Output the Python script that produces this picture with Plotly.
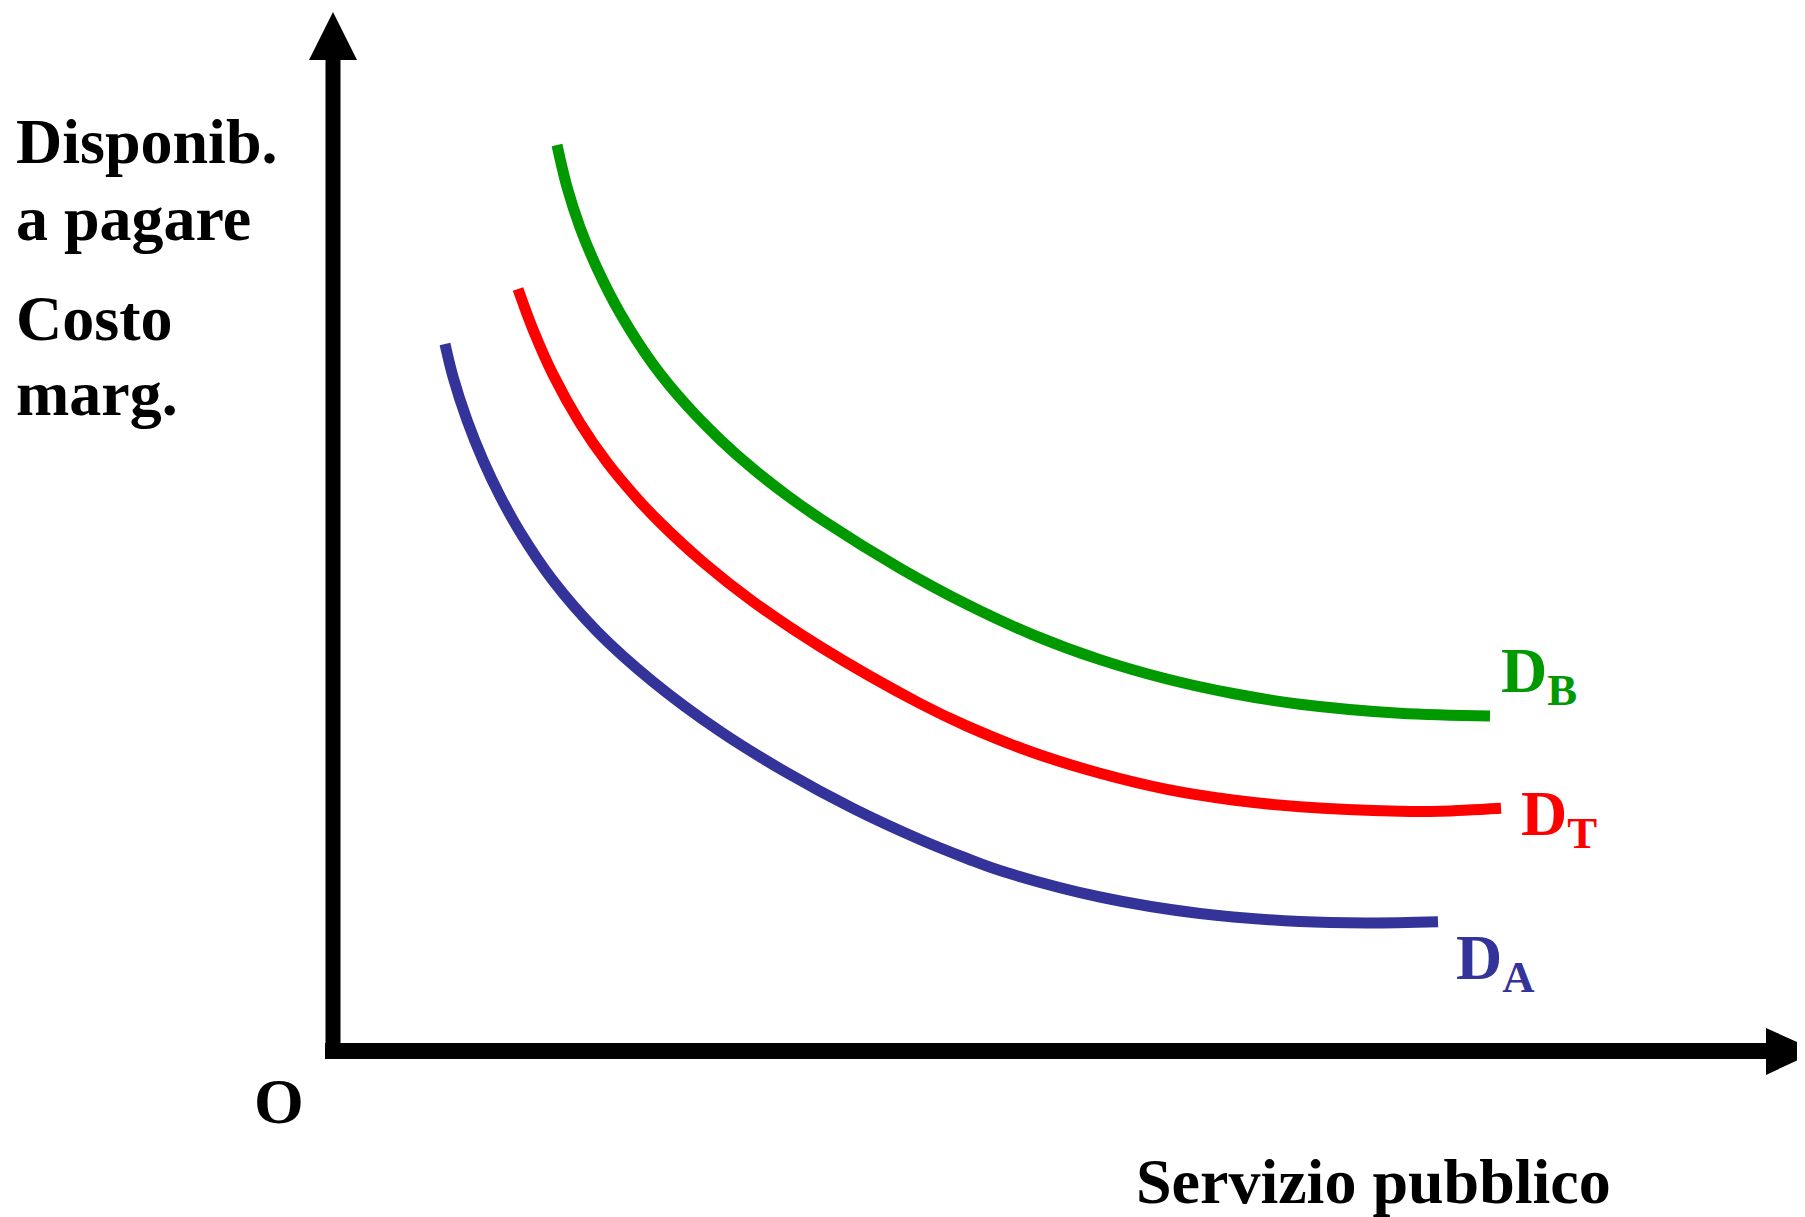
import plotly.graph_objects as go

# ---- data (conceptual demand curves, units relative to origin O) ----
DB_x = [22.4, 23.4, 24.7, 26.4, 28.7, 32.0, 35.4, 38.7, 42.0, 45.4, 49.0, 56.7, 63.4, 70.0, 76.7, 83.4, 90.0, 96.7, 106.7, 115.7]
DB_y = [90.6, 86.4, 82.37, 78.29, 73.8, 68.68, 64.53, 61.16, 58.22, 55.57, 53.05, 48.28, 44.66, 41.62, 39.14, 37.2, 35.75, 34.68, 33.78, 33.51]

DT_x = [18.5, 20.0, 22.0, 24.7, 27.4, 30.4, 32.7, 37.0, 42.0, 48.7, 58.7, 63.4, 70.0, 76.7, 83.4, 90.0, 96.7, 106.7, 110.7, 116.8]
DT_y = [76.2, 72.15, 67.65, 62.79, 58.87, 55.27, 52.85, 48.89, 44.94, 40.45, 34.75, 32.49, 29.85, 27.77, 26.16, 25.1, 24.43, 23.98, 23.98, 24.28]

DA_x = [11.2, 12.0, 13.4, 15.0, 16.7, 18.7, 22.0, 26.4, 32.0, 38.7, 45.4, 52.0, 58.7, 63.4, 66.7, 76.7, 86.7, 96.7, 103.4, 110.5]
DA_y = [70.7, 67.42, 63.08, 59.08, 55.51, 51.91, 47.03, 41.97, 36.93, 31.97, 27.82, 24.26, 21.15, 19.25, 18.05, 15.4, 13.75, 12.95, 12.8, 12.92]

series_names = ["D<sub>B</sub>", "D<sub>T</sub>", "D<sub>A</sub>"]
colors = ["#009900", "#FF0000", "#333399"]

y_label_lines = ["Disponib.", "a pagare", "Costo", "marg."]
x_label = "Servizio pubblico"
origin_label = "O"

WIN_W, WIN_H = 1805, 1217
BODY = 8  # default page margin of the html body
OX, OY = 333, 1051  # origin pixel in window coords
S = 10.0


def dx(px):
    return (px - OX) / S


def dy(py):
    return (OY - py) / S


FONT = "Liberation Serif, Times New Roman, serif"

fig = go.Figure()
for xs, ys, c, n in zip([DB_x, DT_x, DA_x], [DB_y, DT_y, DA_y], colors, series_names):
    fig.add_trace(go.Scatter(x=xs, y=ys, mode="lines", name=n,
                             line=dict(color=c, width=11, shape="spline", smoothing=1.0),
                             hoverinfo="skip", showlegend=False))

shapes = [
    # y axis
    dict(type="line", x0=0, x1=0, y0=dy(1057), y1=dy(58), line=dict(color="black", width=15)),
    dict(type="path", path=f"M {dx(309)} {dy(60)} L {dx(357)} {dy(60)} L {dx(333)} {dy(12)} Z",
         fillcolor="black", line=dict(width=0)),
    # x axis
    dict(type="line", x0=dx(325), x1=dx(1768), y0=0, y1=0, line=dict(color="black", width=16)),
    dict(type="path", path=f"M {dx(1766)} {dy(1028)} L {dx(1766)} {dy(1075)} L {dx(1817)} {dy(1051)} Z",
         fillcolor="black", line=dict(width=0)),
]

annotations = []
y_tops = [104, 181, 281, 356]
for t, yt in zip(y_label_lines, y_tops):
    annotations.append(dict(x=dx(14), y=dy(yt), text=f"<b>{t}</b>", showarrow=False,
                            xanchor="left", yanchor="top", font=dict(family=FONT, size=64, color="black")))
annotations.append(dict(x=dx(279), y=dy(1064), text=f"<b>{origin_label}</b>", showarrow=False,
                        xanchor="center", yanchor="top", font=dict(family=FONT, size=64, color="black")))
annotations.append(dict(x=dx(1134), y=dy(1144), text=f"<b>{x_label}</b>", showarrow=False,
                        xanchor="left", yanchor="top", font=dict(family=FONT, size=64, color="black")))
label_pos = [(1499, 633), (1519, 776), (1454, 920)]
for n, c, (lx, ly) in zip(series_names, colors, label_pos):
    annotations.append(dict(x=dx(lx), y=dy(ly), text=f"<b>{n}</b>", showarrow=False,
                            xanchor="left", yanchor="top", font=dict(family=FONT, size=64, color=c)))

fig.update_layout(
    width=WIN_W - BODY, height=WIN_H - BODY,
    margin=dict(l=0, r=0, t=0, b=0),
    paper_bgcolor="white", plot_bgcolor="white",
    xaxis=dict(range=[dx(BODY), dx(WIN_W)], visible=False, fixedrange=True),
    yaxis=dict(range=[dy(WIN_H), dy(BODY)], visible=False, fixedrange=True),
    shapes=shapes, annotations=annotations,
)

fig.write_html("out.html")
